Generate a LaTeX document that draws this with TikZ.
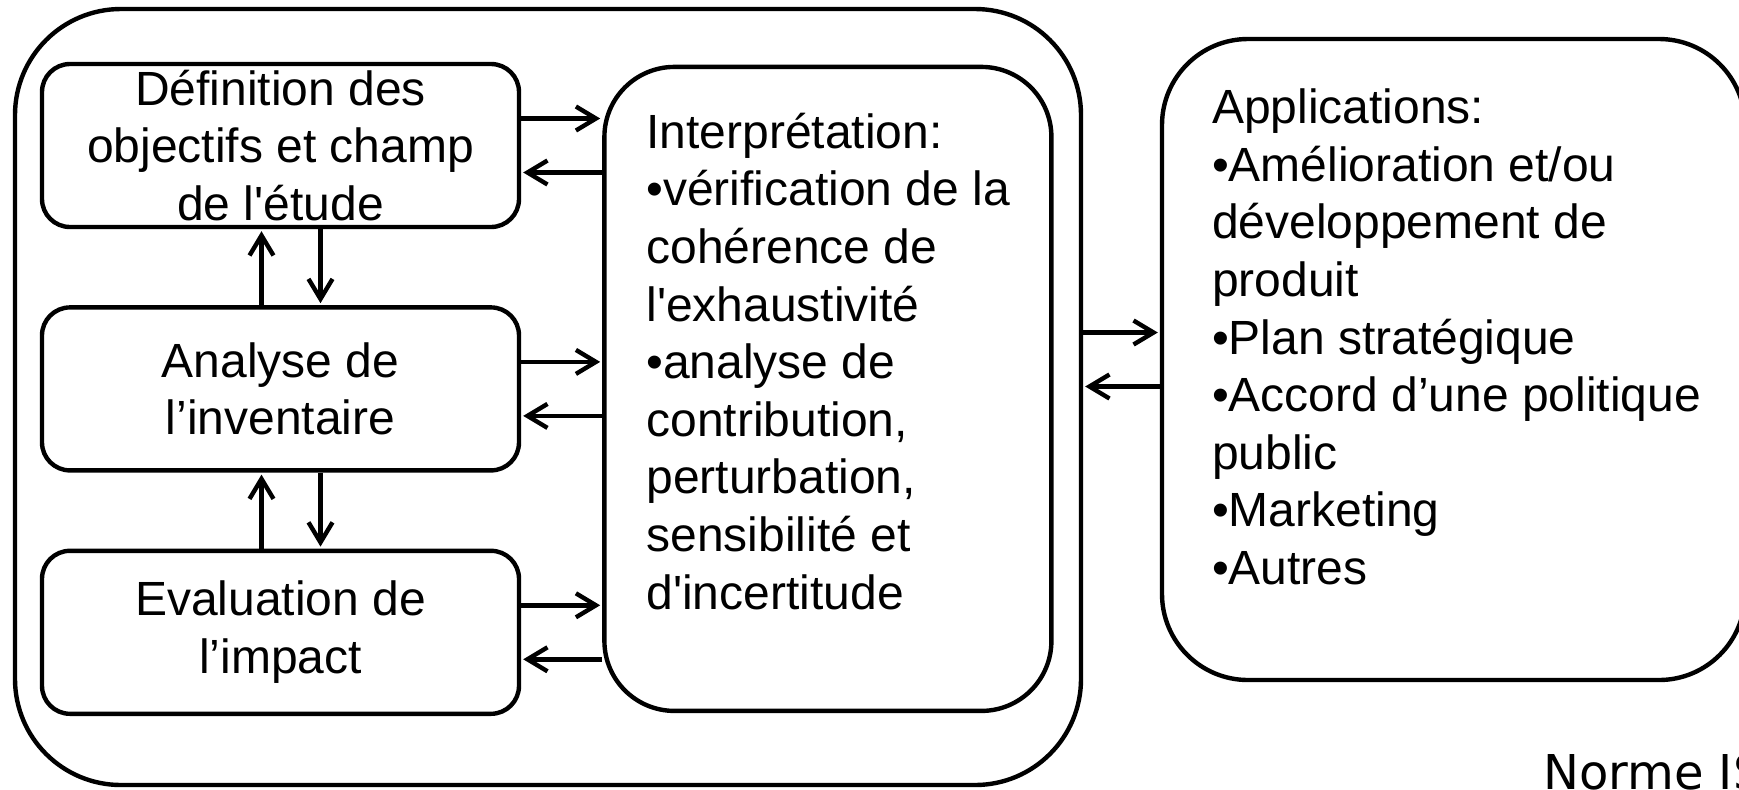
\documentclass[tikz,border=0pt]{standalone}
\usepackage{fontspec}
\setmainfont{Liberation Sans}
\newfontfamily\normefont{DejaVu Sans}
\usetikzlibrary{positioning,arrows.meta}
\def\etapesep{38pt}

\begin{document}
\begin{tikzpicture}[x=0.5pt, y=-0.5pt, line width=2.2pt, >={Straight Barb[length=10pt,width=12pt]}, every label/.append style={inner sep=0pt, align=center, text=black, font=\fontsize{24}{28.8}\selectfont}]
    \tikzstyle{etape}=[rectangle, rounded corners=14pt, draw=black, fill=white, minimum width=238.5pt, minimum height=81.5pt, inner sep=0pt]
    \tikzstyle{cadre}=[rectangle, draw=black, inner sep=0pt]
    \tikzstyle{fleche}=[->, shorten >=1pt]

    \useasboundingbox (0,0) rectangle (1739,789);
    \clip (0,0) rectangle (1739,789);

    % le cadre du cycle
    \node[cadre, rounded corners=53pt, minimum width=533pt, minimum height=388pt] (cycle) at (548,397) {};

    % les trois etapes
    \node[etape, label=center:{Définition des\\objectifs et champ\\de l\textquotesingle étude}] (objectifs) at (280.5,145.5) {};
    \node[etape, label=center:{Analyse de\\l’inventaire}, below=\etapesep of objectifs] (inventaire) {};
    \node[etape, label=center:{Evaluation de\\l’impact}, below=\etapesep of inventaire] (impact) {};

    % interpretation
    \node[cadre, rounded corners=35pt, minimum width=223.5pt, minimum height=322pt, right=40.5pt of inventaire,
        label={[anchor=north west, align=left, xshift=21pt, yshift=-23pt]north west:{Interprétation:\\•vérification de la\\cohérence de\\l\textquotesingle exhaustivité\\•analyse de\\contribution,\\perturbation,\\sensibilité et\\d\textquotesingle incertitude}}] (interp) {};

    % applications
    \node[cadre, rounded corners=43pt, minimum width=291.5pt, minimum height=320.5pt,
        label={[anchor=north west, align=left, xshift=25pt, yshift=-25pt]north west:{Applications:\\•Amélioration et/ou\\développement de\\produit\\•Plan stratégique\\•Accord d’une politique\\public\\•Marketing\\•Autres}}] (applis) at (1453.5,359.5) {};

    \node[font=\normefont\fontsize{24}{28.8}\selectfont, anchor=base west, inner sep=0pt] (norme) at (1541,789) {Norme IS};

    % fleches entre les etapes et l'interpretation
    \draw[fleche] ([yshift=13.5pt]objectifs.east) -- ([yshift=13.5pt]objectifs.east -| interp.west);
    \draw[fleche] ([yshift=-13.5pt]objectifs.east -| interp.west) -- ([yshift=-13.5pt]objectifs.east);
    \draw[fleche] ([yshift=13.5pt]inventaire.east) -- ([yshift=13.5pt]inventaire.east -| interp.west);
    \draw[fleche] ([yshift=-13.5pt]inventaire.east -| interp.west) -- ([yshift=-13.5pt]inventaire.east);
    \draw[fleche] ([yshift=13.5pt]impact.east) -- ([yshift=13.5pt]impact.east -| interp.west);
    \draw[fleche] ([yshift=-13.5pt]impact.east -| interp.west) -- ([yshift=-13.5pt]impact.east);

    % fleches verticales
    \draw[fleche] ([xshift=-9.5pt]inventaire.north) -- ([xshift=-9.5pt]inventaire.north |- objectifs.south);
    \draw[fleche] ([xshift=20pt]objectifs.south) -- ([xshift=20pt]objectifs.south |- inventaire.north);
    \draw[fleche] ([xshift=-9.5pt]impact.north) -- ([xshift=-9.5pt]impact.north |- inventaire.south);
    \draw[fleche] ([xshift=20pt]inventaire.south) -- ([xshift=20pt]inventaire.south |- impact.north);

    % fleches vers les applications
    \draw[fleche] ([yshift=13.5pt]applis.west -| cycle.east) -- ([yshift=13.5pt]applis.west);
    \draw[fleche] ([yshift=-13.5pt]applis.west) -- ([yshift=-13.5pt]applis.west -| cycle.east);

\end{tikzpicture}
\end{document}
